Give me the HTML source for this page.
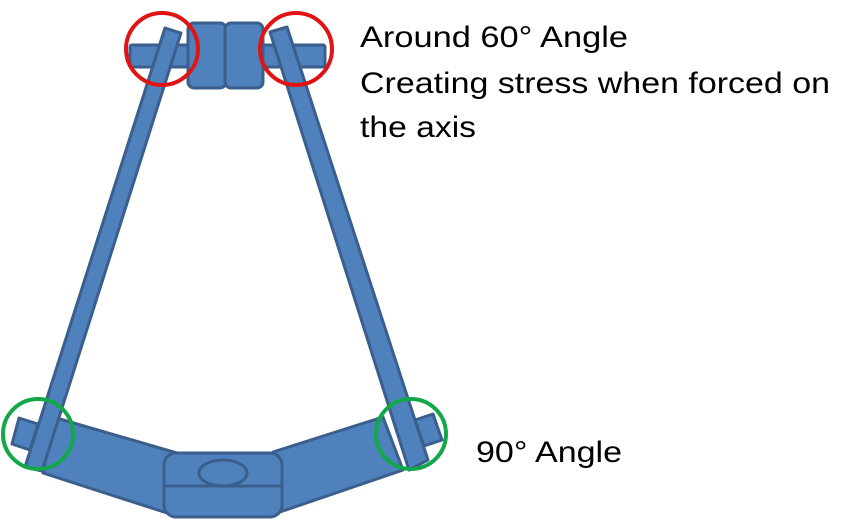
<!DOCTYPE html>
<html><head><style>html,body{margin:0;padding:0;background:#fff}svg{display:block}</style></head>
<body>
<svg width="855" height="522" viewBox="0 0 855 522" xmlns="http://www.w3.org/2000/svg">
<g fill="#4f81bd" stroke="#3a5f8d" stroke-width="3" stroke-linejoin="round">
  <rect x="130" y="45" width="195" height="22" rx="2"/>
  <rect x="188" y="23" width="38" height="65" rx="6"/>
  <rect x="225" y="23" width="38" height="65" rx="6"/>
  <polygon points="19,418 38,424 30,450 12,444"/>
  <polygon points="415,420 433,414 442,440 424,446"/>
  <polygon points="53,417 177,453 167,513 43,473"/>
  <polygon points="273,452 383,417 403,470 277,513"/>
  <polygon points="165,28 181,33 42,471 25,467"/>
  <polygon points="270,32 287,27 428,460 409,470"/>
  <rect x="164" y="453" width="118" height="64" rx="12"/>
  <line x1="164" y1="486" x2="282" y2="486"/>
  <ellipse cx="223" cy="473" rx="24" ry="13"/>
</g>
<g fill="none" stroke-width="4">
  <circle cx="162" cy="49" r="36" stroke="#e01414"/>
  <circle cx="296" cy="49" r="36" stroke="#e01414"/>
  <circle cx="38" cy="434" r="35" stroke="#12a84a"/>
  <circle cx="411" cy="434" r="35" stroke="#12a84a"/>
</g>
<g font-family="Liberation Sans, sans-serif" font-size="30" fill="#000">
  <text x="360" y="47" textLength="268" lengthAdjust="spacingAndGlyphs">Around 60° Angle</text>
  <text x="360" y="93" textLength="470" lengthAdjust="spacingAndGlyphs">Creating stress when forced on</text>
  <text x="360" y="137" textLength="116" lengthAdjust="spacingAndGlyphs">the axis</text>
  <text x="476" y="462" textLength="146" lengthAdjust="spacingAndGlyphs">90° Angle</text>
</g>
</svg>
</body></html>
